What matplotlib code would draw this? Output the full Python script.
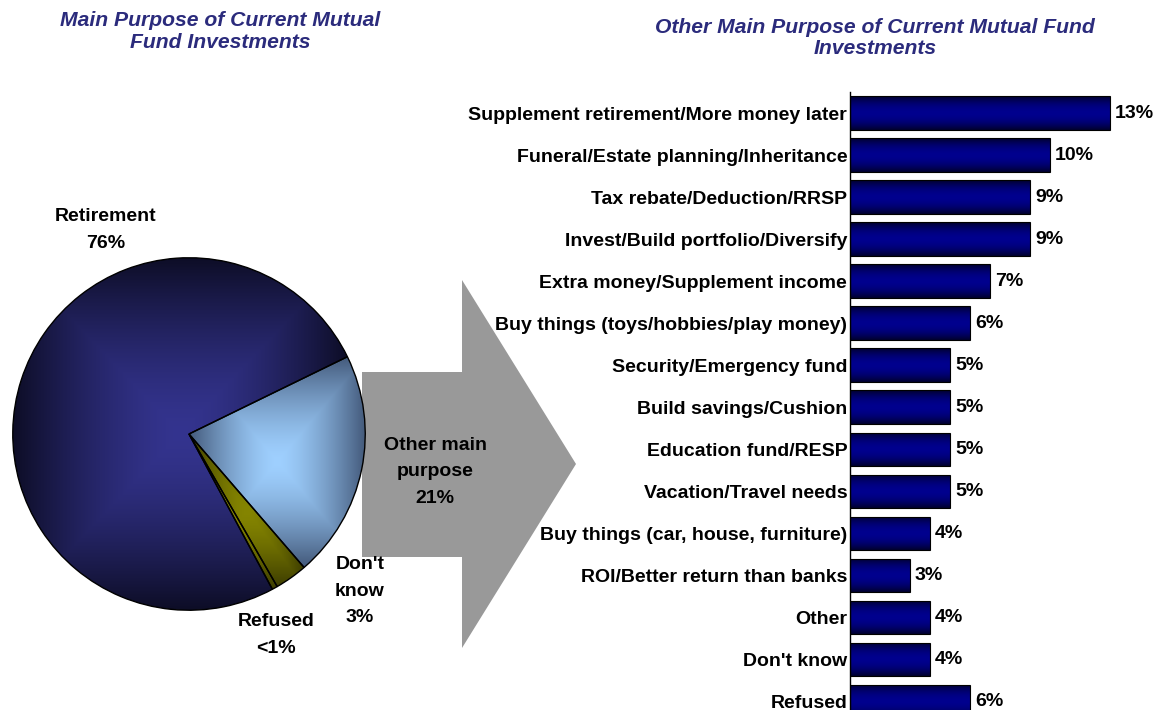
import matplotlib.pyplot as plt
import matplotlib.patches as mpatches
import matplotlib.colors as mcolors
import numpy as np

plt.rcParams["font.family"] = ["Liberation Sans", "DejaVu Sans"]

W, H = 1167, 710

# main purpose (pie)
pie_labels = ["Other main\npurpose", "Don't\nknow", "Refused", "Retirement"]
pie_values = [21, 3, 0.5, 76]
pie_pct = ["21%", "3%", "<1%", "76%"]

# other main purpose (bars)
bar_labels = [
    "Supplement retirement/More money later",
    "Funeral/Estate planning/Inheritance",
    "Tax rebate/Deduction/RRSP",
    "Invest/Build portfolio/Diversify",
    "Extra money/Supplement income",
    "Buy things (toys/hobbies/play money)",
    "Security/Emergency fund",
    "Build savings/Cushion",
    "Education fund/RESP",
    "Vacation/Travel needs",
    "Buy things (car, house, furniture)",
    "ROI/Better return than banks",
    "Other",
    "Don't know",
    "Refused",
]
bar_values = [13, 10, 9, 9, 7, 6, 5, 5, 5, 5, 4, 3, 4, 4, 6]

TITLE_COLOR = "#2b2b7c"
FS = 14
TFS = 15.2

# inner / outer shade for each pie slice
pie_shades = [("#9fd0ff", "#43597a"), ("#858500", "#3c3c00"),
              ("#858500", "#3c3c00"), ("#34348f", "#0d0d26")]


def fx(x):
    return x / W


def fy(y):
    return 1 - y / H


def box_gradient(ax, patch, inner, outer, power=1.5):
    # rectangular "path" shading, bright in the middle of the patch bbox
    ext = patch.get_path().get_extents()
    n = 200
    gx, gy = np.meshgrid(np.linspace(-1, 1, n), np.linspace(-1, 1, n))
    t = np.maximum(np.abs(gx), np.abs(gy)) ** power
    c0 = np.array(mcolors.to_rgb(inner))
    c1 = np.array(mcolors.to_rgb(outer))
    rgb = c0 * (1 - t[..., None]) + c1 * t[..., None]
    im = ax.imshow(rgb, extent=(ext.x0, ext.x1, ext.y0, ext.y1), origin="lower",
                   interpolation="bilinear", zorder=1, aspect="auto")
    im.set_clip_path(patch)


def bar_gradient(ax, rect, mid="#00008e", edge="#00002e"):
    x0, y0 = rect.get_x(), rect.get_y()
    w, h = rect.get_width(), rect.get_height()
    t = np.linspace(-1, 1, 64)[:, None] ** 2
    c0 = np.array(mcolors.to_rgb(mid))
    c1 = np.array(mcolors.to_rgb(edge))
    rgb = (c0 * (1 - t) + c1 * t)[:, None, :]
    im = ax.imshow(rgb, extent=(x0, x0 + w, y0 + h, y0), interpolation="bilinear",
                   zorder=1, aspect="auto")
    im.set_clip_path(rect)


fig = plt.figure(figsize=(W / 100, H / 100), dpi=100)

# background layer with the big grey arrow
bg = fig.add_axes([0, 0, 1, 1])
bg.set_xlim(0, W)
bg.set_ylim(H, 0)
bg.axis("off")
arrow = [(362, 372), (462, 372), (462, 280), (576, 464),
         (462, 648), (462, 557), (362, 557)]
bg.add_patch(mpatches.Polygon(arrow, closed=True, facecolor="#999999",
                              edgecolor="none"))

# pie
cx, cy, r = 189, 434, 178
pax = fig.add_axes([fx(cx - r), fy(cy + r), 2 * r / W, 2 * r / H])
pax.patch.set_visible(False)
wedges, _ = pax.pie(pie_values, startangle=26, counterclock=False, radius=1,
                    wedgeprops=dict(linewidth=1, edgecolor="black"))
for wdg, (inner, outer) in zip(wedges, pie_shades):
    wdg.set_facecolor("none")
    wdg.set_zorder(2)
    box_gradient(pax, wdg, inner, outer)
pax.set_xlim(-1.01, 1.01)
pax.set_ylim(-1.01, 1.01)
pax.axis("off")

# pie labels
label_pos = {0: (435, 472), 1: (360, 591), 2: (276, 635), 3: (106, 230)}
for i, (x, y) in label_pos.items():
    fig.text(fx(x), fy(y), pie_labels[i] + "\n" + pie_pct[i], ha="center",
             va="center", fontsize=FS, fontweight="bold", linespacing=1.75,
             zorder=5)

# titles
fig.text(fx(220), fy(32), "Main Purpose of Current Mutual\nFund Investments",
         ha="center", va="center", fontsize=TFS, fontweight="bold",
         style="italic", color=TITLE_COLOR, linespacing=1.2)
fig.text(fx(875), fy(38), "Other Main Purpose of Current Mutual Fund\nInvestments",
         ha="center", va="center", fontsize=TFS, fontweight="bold",
         style="italic", color=TITLE_COLOR, linespacing=1.1)

# bar chart
bax = fig.add_axes([fx(850), 0, 1 - fx(850), fy(92)])
ypos = np.arange(len(bar_values))
bars = bax.barh(ypos, bar_values, height=0.79, facecolor="none",
                edgecolor="black", linewidth=0.8, zorder=2)
for rect in bars:
    bar_gradient(bax, rect)
for y, v in zip(ypos, bar_values):
    bax.text(v + 0.25, y, f"{v}%", ha="left", va="center",
             fontsize=FS, fontweight="bold")
bax.set_xlim(0, (W - 850) / 20)
bax.set_ylim(14.21, -0.5)
bax.set_yticks(ypos)
bax.set_yticklabels(bar_labels, fontsize=FS, fontweight="bold")
bax.tick_params(axis="y", length=0, pad=2)
bax.xaxis.set_visible(False)
for side in ("top", "right", "bottom"):
    bax.spines[side].set_visible(False)
bax.spines["left"].set_linewidth(1)
bax.patch.set_visible(False)

fig.savefig("out.png", dpi=100)
